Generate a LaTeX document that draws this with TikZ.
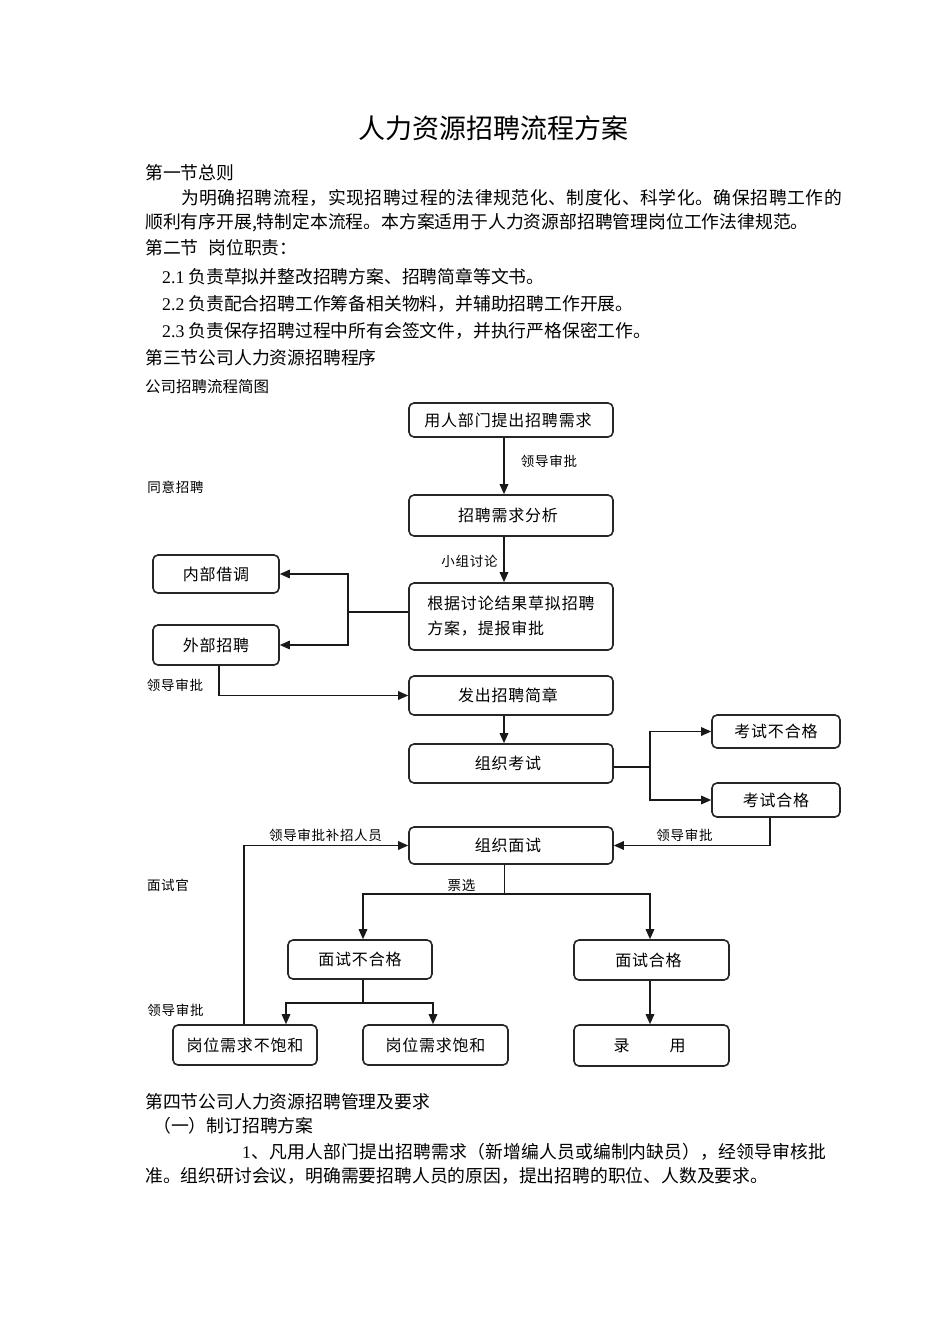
\documentclass[tikz,border=0pt]{standalone}
\usepackage{fontspec}
\setmainfont{Noto Sans CJK SC}
\newfontfamily\lat{Liberation Serif}
\newfontfamily\boxfont{Noto Sans CJK SC}[LetterSpace=5]
\newfontfamily\labfont{Noto Sans CJK SC}[LetterSpace=5]
\newfontfamily\jfont{Noto Sans CJK SC}[LetterSpace=3.2]
\newfontfamily\qfont{Noto Sans CJK SC}[LetterSpace=1.1]
\usetikzlibrary{arrows.meta,calc}
\begin{document}
\begin{tikzpicture}[x=1pt,y=-1pt,
  box/.style={draw=black!85, line width=1.6pt, rounded corners=5pt, inner sep=0pt,
    font=\boxfont\fontsize{16}{25}\selectfont},
  lab/.style={inner sep=0pt, font=\labfont\fontsize{13.5}{16}\selectfont},
  body/.style={anchor=west, inner sep=0pt, font=\fontsize{17.8}{20}\selectfont},
  conn/.style={line width=1.5pt, draw=black!90},
  arr/.style={conn, -{Triangle[length=10pt,width=8.5pt]}},
]
\fill[white] (0,0) rectangle (950,1344);
\useasboundingbox (0,0) rectangle (950,1344);

% ---------- body text ----------
\node[inner sep=0pt, font=\fontsize{27}{30}\selectfont] (title) at (493.5,128) {人力资源招聘流程方案};
\node[body] (s1) at (145,173) {第一节总则};
\node[body, font=\jfont\fontsize{17.8}{20}\selectfont] (p1) at (181,198) {为明确招聘流程，实现招聘过程的法律规范化、制度化、科学化。确保招聘工作的};
\node[body] (p2) at (145,223) {顺利有序开展,特制定本流程。本方案适用于人力资源部招聘管理岗位工作法律规范。};
\node[body] (s2) at (145,248) {第二节\hspace{10pt}岗位职责：};
\node[body] (d1) at (162,277) {{\lat 2.1} 负责草拟并整改招聘方案、招聘简章等文书。};
\node[body] (d2) at (162,304) {{\lat 2.2} 负责配合招聘工作筹备相关物料，并辅助招聘工作开展。};
\node[body] (d3) at (162,331) {{\lat 2.3} 负责保存招聘过程中所有会签文件，并执行严格保密工作。};
\node[body] (s3) at (145,358) {第三节公司人力资源招聘程序};
\node[body, font=\fontsize{15.5}{18}\selectfont] (cap) at (145,387) {公司招聘流程简图};

\node[body] (s4) at (145,1102) {第四节公司人力资源招聘管理及要求};
\node[body] (s41) at (153,1126) {（一）制订招聘方案};
\node[body, font=\qfont\fontsize{17.8}{20}\selectfont] (q1) at (242,1152) {{\lat 1}、凡用人部门提出招聘需求（新增编人员或编制内缺员），经领导审核批};
\node[body] (q2) at (145,1176) {准。组织研讨会议，明确需要招聘人员的原因，提出招聘的职位、人数及要求。};

% ---------- flowchart boxes ----------
\node[box, minimum width=204pt, minimum height=34pt] (b1) at (511,420) {用人部门提出招聘需求\hspace*{6pt}};
\node[box, minimum width=204pt, minimum height=41pt] (b2) at (511,515.5) {招聘需求分析\hspace*{6pt}};
\node[box, minimum width=204pt, minimum height=67pt, align=left] (b3) at (511,616.5) {根据讨论结果草拟招聘\\方案，提报审批};
\node[box, minimum width=126pt, minimum height=38pt] (nb) at (216,574) {内部借调};
\node[box, minimum width=126pt, minimum height=40pt] (wb) at (216,645) {外部招聘};
\node[box, minimum width=204pt, minimum height=39pt] (b4) at (511,695.5) {发出招聘简章\hspace*{6pt}};
\node[box, minimum width=204pt, minimum height=39pt] (b5) at (511,763.5) {组织考试\hspace*{6pt}};
\node[box, minimum width=128pt, minimum height=33pt] (ef) at (776,731.5) {考试不合格};
\node[box, minimum width=128pt, minimum height=34pt] (ep) at (776,800) {考试合格};
\node[box, minimum width=204pt, minimum height=37pt] (b6) at (511,845.5) {组织面试\hspace*{6pt}};
\node[box, minimum width=144pt, minimum height=39pt] (if) at (360,959.5) {面试不合格};
\node[box, minimum width=155pt, minimum height=40pt] (ip) at (651.5,960) {面试合格\hspace*{6pt}};
\node[box, minimum width=144pt, minimum height=40pt] (n1) at (245,1045) {岗位需求不饱和};
\node[box, minimum width=145pt, minimum height=40pt] (n2) at (435.5,1045) {岗位需求饱和};
\node[box, minimum width=155pt, minimum height=41pt] (lu) at (651.5,1045.5) {录\hspace{40pt}用\hspace*{4pt}};

% ---------- labels ----------
\node[lab] (l1) at (549,461) {领导审批};
\node[lab] (l2) at (175.5,487) {同意招聘};
\node[lab] (l3) at (469.5,561) {小组讨论};
\node[lab] (l4) at (175,685) {领导审批};
\node[lab] (l5) at (325.5,835) {领导审批补招人员};
\node[lab] (l6) at (684.5,835) {领导审批};
\node[lab] (l7) at (168,885) {面试官};
\node[lab] (l8) at (461.5,885) {票选};
\node[lab] (l9) at (175.5,1010) {领导审批};

% ---------- connectors ----------
\coordinate (j1) at (348,612);
\coordinate (j2) at (650,767);
\coordinate (j3) at (504.5,894);
\coordinate (j4) at (363,1003);

\draw[arr] ([xshift=-7pt]b1.south) -- ([xshift=-7pt]b2.north);
\draw[arr] ([xshift=-7pt]b2.south) -- ([xshift=-7pt]b3.north);
\draw[conn, line width=1.1pt] ([yshift=4.5pt]b3.west) -- (j1);
\draw[arr] (j1) |- (nb.east);
\draw[arr] (j1) |- (wb.east);
\draw[arr] ([xshift=3pt]wb.south) |- (b4.west);
\draw[arr] ([xshift=-7pt]b4.south) -- ([xshift=-7pt]b5.north);
\draw[conn, line width=1.1pt] ([yshift=-3.5pt]b5.east) -- (j2);
\draw[arr] (j2) |- (ef.west);
\draw[arr] (j2) |- (ep.west);
\draw[arr] ([xshift=-6pt]ep.south) |- (b6.east);
\draw[arr] ([xshift=-1pt]n1.north) |- (b6.west);
\draw[conn] ([xshift=-6.5pt]b6.south) -- (j3);
\draw[arr] (j3) -| ([xshift=3pt]if.north);
\draw[arr] (j3) -| ([xshift=-1.5pt]ip.north);
\draw[conn] ([xshift=3pt]if.south) -- (j4);
\draw[arr] (j4) -| ([xshift=41pt]n1.north);
\draw[arr] (j4) -| ([xshift=-2.5pt]n2.north);
\draw[arr] ([xshift=-1.5pt]ip.south) -- ([xshift=-1.5pt]lu.north);
\end{tikzpicture}
\end{document}
